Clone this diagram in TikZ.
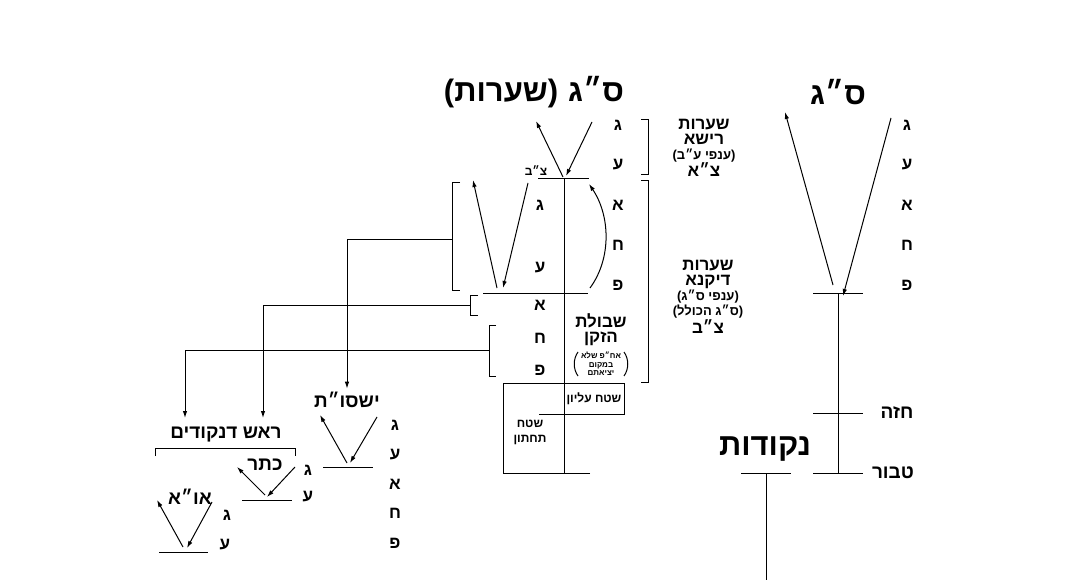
\documentclass[tikz,border=0pt]{standalone}
\usepackage{fontspec}
\usepackage{tikz}
\usetikzlibrary{arrows.meta}
\TeXXeTstate=1
\newfontfamily\hebfont[Script=Hebrew]{Liberation Sans Bold}
\newfontfamily\latfont{Liberation Sans Bold}
\newcommand{\heb}[1]{{\hebfont\beginR #1\endR}}
\newcommand{\lp}{{\latfont(}}
\newcommand{\rp}{{\latfont)}}

\begin{document}
\begin{tikzpicture}[x=1pt,y=-1pt,line width=1pt,
    ot/.style={font=\hebfont\fontsize{17}{17}\selectfont,inner sep=0pt},
    head/.style={font=\hebfont\fontsize{31}{31}\selectfont,inner sep=0pt},
    subhead/.style={font=\hebfont\fontsize{19}{19}\selectfont,inner sep=0pt},
    ann/.style={font=\hebfont\fontsize{17}{15}\selectfont,align=center,inner sep=0pt},
    small/.style={font=\hebfont\fontsize{12}{15}\selectfont,align=center,inner sep=0pt},
    tiny/.style={font=\hebfont\fontsize{8}{8.5}\selectfont,align=center,inner sep=0pt},
    arr/.style={-{Latex[length=7pt,width=4.5pt]}}]
    \useasboundingbox (0,0) rectangle (1068,580);

    % right column: s"g
    \node[head] (sg) at (838,92) {\heb{ס״ג}};
    \foreach \l [count=\i] in {ג,ע,א,ח,פ}
        \node[ot] (sgr\i) at (907,{85+40*\i}) {\heb{\l}};
    \coordinate (sgtip) at (838,293);
    \coordinate (sgtl) at (785,112);
    \coordinate (sgtr) at (891,118);
    \draw[arr] ([xshift=-5pt]sgtip) ++(0,-8) -- (sgtl);
    \draw[arr] (sgtr) -- ([xshift=5pt,yshift=-3pt]sgtip);
    \draw ([xshift=-25pt]sgtip) -- ([xshift=25pt]sgtip);
    \coordinate (haze) at (838,413);
    \coordinate (tabur) at (838,473);
    \draw (sgtip) -- (tabur);
    \draw ([xshift=-25pt]haze) -- ([xshift=25pt]haze);
    \draw ([xshift=-25pt]tabur) -- ([xshift=25pt]tabur);
    \node[subhead] (lhaze) at (897,413) {\heb{חזה}};
    \node[subhead] (ltabur) at (893,473) {\heb{טבור}};

    % nekudot
    \node[head] (nek) at (765,449) {\heb{נקודות}};
    \coordinate (nektop) at (766,473);
    \coordinate (nekbot) at (766,580);
    \draw ([xshift=-25pt]nektop) -- ([xshift=25pt]nektop);
    \draw (nektop) -- (nekbot);

    % middle column: s"g (searot)
    \node[head] (sgs) at (534,92) {\lp\heb{שערות}\rp\hspace{10pt}\heb{ס״ג}};
    \foreach \l [count=\i] in {ג,ע,א,ח,פ}
        \node[ot] (mr\i) at (618,{85+40*\i}) {\heb{\l}};
    \coordinate (mtop) at (564,179);
    \coordinate (mbot) at (564,473);
    \draw[arr] (563,177) -- (536,121);
    \draw[arr] (592,122) -- (566,176);
    \draw (538,179) -- (589,179);
    \draw (mtop) -- (mbot);
    \node[small] (zb1) at (536,171) {\heb{צ״ב}};
    \draw[arr] (590,288) .. controls (612,258) and (610,215) .. (589,184);

    % brackets with notes
    \draw (641,120) -- (648,120) -- (648,175) -- (641,175);
    \node[ann] (rosha) at (704,148) {\heb{שערות}\\\heb{רישא}\\
        {\fontsize{13}{14}\selectfont\lp\heb{ענפי ע״ב}\rp}\\\heb{צ״א}};
    \draw (641,181) -- (648,181) -- (648,382) -- (641,382);
    \node[ann] (dikna) at (708,297) {\heb{שערות}\\\heb{דיקנא}\\
        {\fontsize{13}{15}\selectfont\lp\heb{ענפי ס״ג}\rp}\\
        {\fontsize{13}{15}\selectfont\lp\heb{ס״ג הכולל}\rp}\\\heb{צ״ב}};

    % left v of the middle column
    \foreach \l/\y [count=\i] in {ג/205,ע/268,א/305,ח/338,פ/370}
        \node[ot] (ml\i) at (540,\y) {\heb{\l}};
    \draw[arr] (497,288) -- (473,180);
    \draw[arr] (528,183) -- (503,288);
    \draw (483,293) -- (588,293);

    % shibolet hazakan
    \node[ann] (shib) at (601,330) {\heb{שבולת}\\\heb{הזקן}};
    \node[tiny] (shibn) at (601,364) {\heb{אח״פ שלא}\\\heb{במקום}\\\heb{יציאתם}};
    \draw (578,352) .. controls (573,359) and (573,369) .. (578,376);
    \draw (624,352) .. controls (629,359) and (629,369) .. (624,376);

    % box
    \draw (590,473) -- (503,473) -- (503,383) -- (624,383) -- (624,414) -- (539,414);
    \node[small] (elyon) at (594,399) {\heb{שטח עליון}};
    \node[small] (tahton) at (530,432) {\heb{שטח}\\\heb{תחתון}};

    % brackets to the left and their lines
    \draw (460,183) -- (452,183) -- (452,290) -- (460,290);
    \draw (478,295) -- (470,295) -- (470,315) -- (478,315);
    \draw (496,325) -- (489,325) -- (489,376) -- (496,376);
    \coordinate (b1) at (452,239);
    \coordinate (b2) at (470,305);
    \coordinate (b3) at (489,350);

    % yishsut
    \node[subhead] (yish) at (347,400) {\heb{ישסו״ת}};
    \foreach \l [count=\i] in {ג,ע,א,ח,פ}
        \node[ot] (yl\i) at (395,{395.5+29.5*\i}) {\heb{\l}};
    \draw[arr] (347,463) -- (320,415);
    \draw[arr] (377,417) -- (350,463);
    \draw (323,467) -- (373,467);
    \draw[arr] (b1) -| ([yshift=3pt]yish.north);

    % rosh denekudim
    \node[subhead] (rosh) at (226,435) {\heb{ראש דנקודים}};
    \draw (155,456) -- (155,448) -- (295,448) -- (295,456);
    \draw[arr] (b2) -| (263,418);
    \draw[arr] (b3) -| (185,418);

    % keter
    \node[subhead] (keter) at (265,465) {\heb{כתר}};
    \node[ot] (kg) at (308,470) {\heb{ג}};
    \node[ot] (ka) at (308,497) {\heb{ע}};
    \draw[arr] (265,495) -- (237,467);
    \draw[arr] (295,467) -- (267,497);
    \draw (242,500) -- (292,500);

    % abba ve-ima
    \node[subhead] (aoa) at (190,497) {\heb{או״א}};
    \node[ot] (ag) at (227,515) {\heb{ג}};
    \node[ot] (aa) at (225,545) {\heb{ע}};
    \draw[arr] (183,547) -- (157,500);
    \draw[arr] (212,502) -- (187,548);
    \draw (159,552) -- (208,552);
\end{tikzpicture}
\end{document}
